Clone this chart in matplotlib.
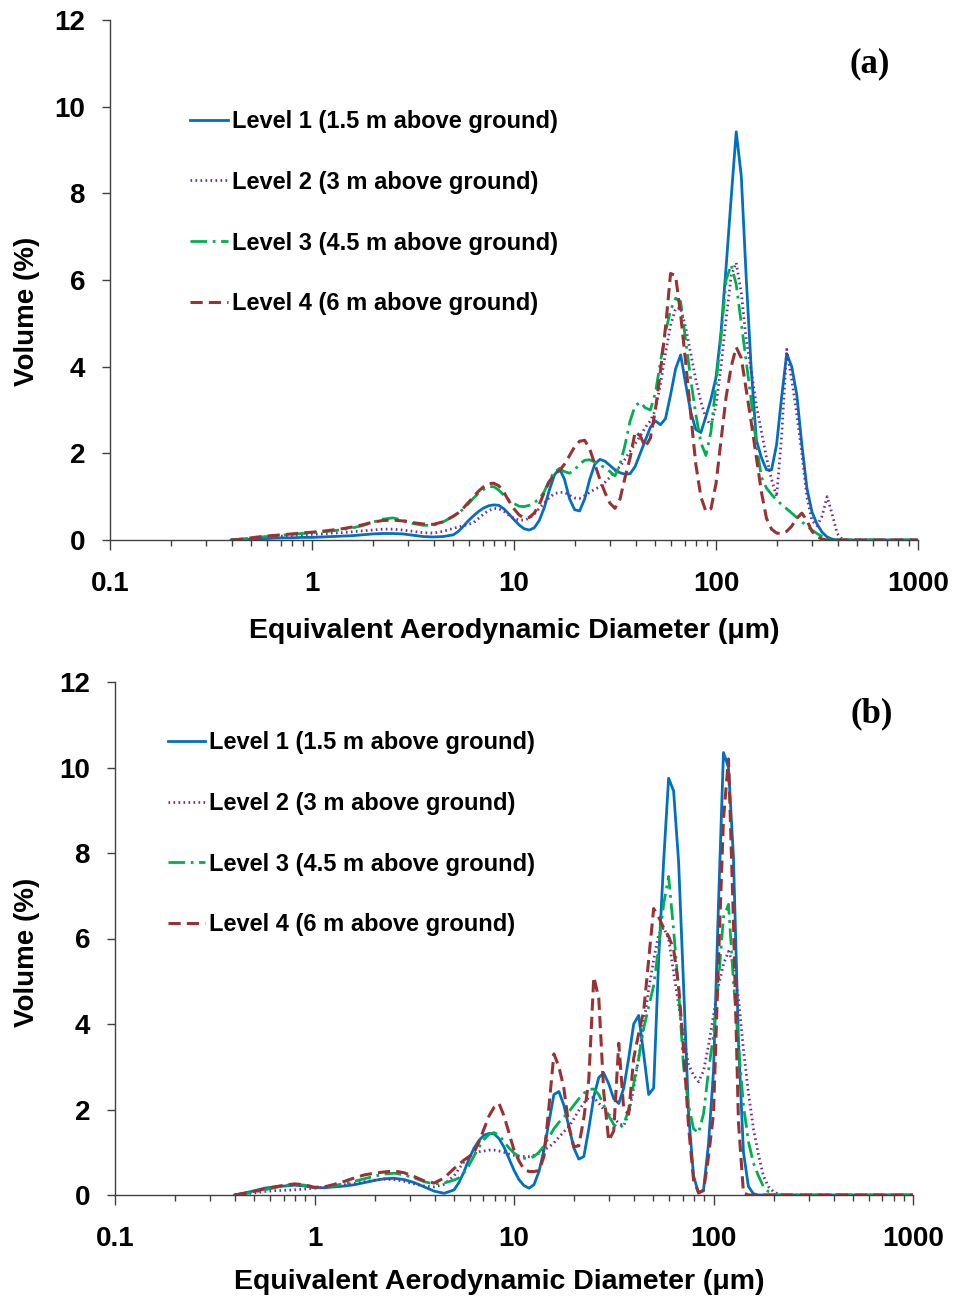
import matplotlib
matplotlib.use("Agg")
import matplotlib.pyplot as plt

plt.rcParams['font.family'] = ['Liberation Sans', 'DejaVu Sans']
plt.rcParams['font.weight'] = 'bold'

# particle diameter grid (um), shared by both panels
diameter = [0.398, 0.447, 0.501, 0.562, 0.631, 0.708, 0.794, 0.891, 1.0, 1.122, 1.259, 1.413,
            1.585, 1.778, 1.995, 2.239, 2.512, 2.818, 3.162, 3.548, 3.981, 4.467, 5.012,
            5.309, 5.623, 5.957, 6.310, 6.683, 7.079, 7.499, 7.943, 8.414, 8.913, 9.441,
            10.0, 10.59, 11.22, 11.89, 12.59, 13.34, 14.13, 14.96, 15.85, 16.79, 17.78, 18.84,
            19.95, 21.13, 22.39, 23.71, 25.12, 26.61, 28.18, 29.85, 31.62, 33.50, 35.48, 37.58,
            39.81, 42.17, 44.67, 47.32, 50.12, 53.09, 56.23, 59.57, 63.10, 66.83, 70.79, 74.99,
            79.43, 84.14, 89.13, 94.41, 100.0, 105.9, 112.2, 118.9, 125.9, 133.4, 141.3, 149.6,
            158.5, 167.9, 177.8, 188.4, 199.5, 211.3, 223.9, 237.1, 251.2, 266.1, 281.8, 298.5,
            316.2, 335.0, 354.8, 375.8, 398.1, 421.7, 446.7, 501.2, 631.0, 1000.0]

# ---- panel (a) ----
lvl1_a = [0, 0.01, 0.02, 0.03, 0.04, 0.05, 0.05, 0.06, 0.06, 0.07, 0.08, 0.09, 0.10, 0.12, 0.14, 0.15, 0.15, 0.14, 0.11, 0.08, 0.07, 0.08, 0.12,
          0.20, 0.32, 0.45, 0.56, 0.66, 0.74, 0.79, 0.81, 0.80, 0.72, 0.60,
          0.47, 0.35, 0.26, 0.23, 0.28, 0.45, 0.75, 1.15, 1.50, 1.65, 1.40, 0.95,
          0.70, 0.67, 0.95, 1.40, 1.75, 1.86, 1.82, 1.72, 1.62, 1.55, 1.52, 1.53,
          1.70, 2.00, 2.30, 2.60, 2.75, 2.66, 2.80, 3.35, 3.95, 4.27, 3.60, 2.95,
          2.55, 2.48, 2.85, 3.25, 3.75, 4.80, 6.30, 7.90, 9.42, 8.40, 6.00, 3.90,
          2.30, 1.90, 1.62, 1.62, 2.20, 3.30, 4.30, 4.00, 3.35, 2.20, 1.20, 0.65,
          0.37, 0.18, 0.07, 0.02, 0, 0, 0, 0, 0, 0]
lvl2_a = [0, 0.01, 0.03, 0.05, 0.07, 0.09, 0.10, 0.12, 0.13, 0.14, 0.16, 0.17, 0.19, 0.21, 0.23, 0.25, 0.25, 0.23, 0.20, 0.17, 0.16, 0.20, 0.27,
          0.30, 0.33, 0.36, 0.40, 0.50, 0.60, 0.68, 0.73, 0.72, 0.66, 0.57,
          0.50, 0.46, 0.46, 0.50, 0.60, 0.73, 0.85, 0.98, 1.07, 1.10, 1.10, 1.03,
          0.97, 0.96, 1.02, 1.10, 1.17, 1.23, 1.33, 1.45, 1.58, 1.70, 1.87, 2.05,
          2.22, 2.40, 2.60, 2.75, 3.00, 3.60, 4.30, 4.95, 5.35, 5.35, 4.90, 4.30,
          3.70, 3.20, 2.80, 2.65, 3.10, 4.00, 5.10, 6.10, 6.40, 5.70, 4.60, 3.90,
          3.10, 2.50, 1.90, 1.40, 1.00, 2.40, 4.40, 3.70, 2.90, 2.00, 1.00, 0.45,
          0.33, 0.55, 1.00, 0.60, 0.15, 0.01, 0, 0, 0, 0]
lvl3_a = [0, 0.02, 0.05, 0.07, 0.09, 0.11, 0.13, 0.15, 0.17, 0.19, 0.21, 0.24, 0.28, 0.33, 0.41, 0.48, 0.51, 0.46, 0.38, 0.34, 0.34, 0.42, 0.55,
          0.62, 0.72, 0.84, 0.97, 1.08, 1.17, 1.23, 1.23, 1.15, 1.03, 0.92,
          0.84, 0.78, 0.77, 0.80, 0.86, 0.95, 1.12, 1.38, 1.58, 1.64, 1.58, 1.54,
          1.62, 1.75, 1.84, 1.85, 1.80, 1.73, 1.67, 1.58, 1.48, 1.75, 2.20, 2.75,
          3.10, 3.18, 3.05, 3.00, 3.40, 4.10, 4.80, 5.30, 5.58, 5.50, 4.60, 3.70,
          2.90, 2.25, 1.95, 2.50, 3.60, 4.70, 6.00, 6.35, 5.90, 5.00, 4.10, 3.20,
          2.20, 1.45, 1.20, 1.05, 0.92, 0.82, 0.72, 0.62, 0.52, 0.42, 0.32, 0.23,
          0.15, 0.08, 0.03, 0, 0, 0, 0, 0, 0, 0]
lvl4_a = [0, 0.02, 0.05, 0.08, 0.10, 0.12, 0.14, 0.16, 0.18, 0.20, 0.23, 0.26, 0.30, 0.35, 0.41, 0.45, 0.46, 0.44, 0.40, 0.37, 0.36, 0.42, 0.55,
          0.63, 0.74, 0.87, 1.00, 1.13, 1.23, 1.30, 1.31, 1.25, 1.10, 0.90,
          0.72, 0.58, 0.51, 0.52, 0.62, 0.82, 1.10, 1.35, 1.52, 1.60, 1.75, 1.95,
          2.15, 2.28, 2.30, 2.10, 1.75, 1.40, 1.10, 0.85, 0.73, 0.95, 1.45, 1.90,
          2.50, 2.40, 2.15, 2.35, 3.00, 3.90, 4.90, 6.15, 6.10, 5.20, 4.10, 2.90,
          1.75, 1.00, 0.66, 0.72, 1.30, 2.30, 3.30, 4.00, 4.45, 4.20, 3.45, 2.70,
          1.90, 1.10, 0.50, 0.25, 0.16, 0.15, 0.20, 0.32, 0.50, 0.62, 0.45, 0.20,
          0.08, 0.02, 0, 0, 0, 0, 0, 0, 0, 0]

# ---- panel (b) ----
lvl1_b = [0, 0.05, 0.10, 0.16, 0.19, 0.21, 0.23, 0.21, 0.17, 0.17, 0.19, 0.21, 0.24, 0.29, 0.34, 0.38, 0.39, 0.36, 0.29, 0.19, 0.09, 0.04, 0.12,
          0.30, 0.55, 0.85, 1.10, 1.28, 1.40, 1.44, 1.43, 1.32, 1.12, 0.85,
          0.58, 0.36, 0.22, 0.16, 0.24, 0.55, 1.05, 1.70, 2.35, 2.42, 2.10, 1.60,
          1.10, 0.84, 0.90, 1.55, 2.30, 2.75, 2.85, 2.60, 2.25, 2.14, 2.50, 3.20,
          4.00, 4.20, 3.30, 2.35, 2.50, 5.50, 7.80, 9.75, 9.45, 7.80, 4.90, 1.90,
          0.45, 0.04, 0.12, 1.20, 2.90, 6.80, 10.35, 10.00, 7.90, 3.60, 1.00, 0.20,
          0.03, 0, 0, 0, 0, 0, 0, 0, 0, 0, 0, 0,
          0, 0, 0, 0, 0, 0, 0, 0, 0, 0]
lvl2_b = [0, 0.03, 0.05, 0.08, 0.10, 0.11, 0.12, 0.14, 0.16, 0.18, 0.21, 0.24, 0.27, 0.31, 0.35, 0.37, 0.36, 0.32, 0.26, 0.21, 0.19, 0.25, 0.45,
          0.62, 0.78, 0.90, 0.97, 1.01, 1.03, 1.05, 1.05, 1.03, 1.00, 0.96,
          0.93, 0.91, 0.90, 0.90, 0.93, 0.98, 1.05, 1.12, 1.22, 1.35, 1.48, 1.60,
          1.78, 1.98, 2.15, 2.28, 2.28, 2.15, 2.00, 1.88, 1.80, 1.68, 1.62, 1.90,
          2.50, 3.20, 4.00, 4.80, 5.50, 6.10, 6.25, 6.00, 5.20, 4.45, 3.70, 3.05,
          2.80, 2.65, 2.90, 3.50, 4.20, 4.90, 5.40, 5.70, 5.40, 4.60, 3.40, 2.40,
          1.55, 0.95, 0.45, 0.20, 0.08, 0.02, 0, 0, 0, 0, 0, 0,
          0, 0, 0, 0, 0, 0, 0, 0, 0, 0]
lvl3_b = [0, 0.03, 0.07, 0.12, 0.17, 0.22, 0.25, 0.23, 0.17, 0.18, 0.22, 0.27, 0.32, 0.38, 0.44, 0.49, 0.51, 0.47, 0.40, 0.31, 0.26, 0.28, 0.35,
          0.40, 0.52, 0.70, 0.92, 1.12, 1.30, 1.42, 1.46, 1.40, 1.25, 1.10,
          0.98, 0.90, 0.86, 0.86, 0.90, 1.00, 1.15, 1.35, 1.55, 1.70, 1.82, 1.95,
          2.10, 2.25, 2.38, 2.47, 2.48, 2.35, 2.10, 1.85, 1.65, 1.56, 1.65, 2.00,
          2.60, 3.20, 3.90, 4.40, 4.90, 5.80, 6.80, 7.45, 6.20, 4.80, 3.00, 2.10,
          1.55, 1.45, 1.90, 2.90, 3.75, 5.00, 6.50, 6.80, 5.00, 3.50, 2.10, 1.25,
          0.75, 0.45, 0.20, 0.08, 0.02, 0, 0, 0, 0, 0, 0, 0,
          0, 0, 0, 0, 0, 0, 0, 0, 0, 0]
lvl4_b = [0, 0.04, 0.09, 0.14, 0.19, 0.23, 0.26, 0.24, 0.18, 0.19, 0.25, 0.32, 0.40, 0.47, 0.51, 0.54, 0.56, 0.52, 0.43, 0.33, 0.28, 0.40, 0.62,
          0.72, 0.82, 0.90, 1.00, 1.25, 1.55, 1.85, 2.05, 2.14, 1.85, 1.45,
          1.05, 0.80, 0.60, 0.55, 0.55, 0.57, 0.90, 2.05, 3.30, 3.00, 2.50, 1.60,
          1.13, 1.15, 1.80, 2.70, 5.10, 4.60, 2.40, 1.27, 1.50, 3.55, 2.00, 1.90,
          3.20, 3.78, 4.30, 5.50, 6.70, 6.50, 6.25, 6.05, 5.75, 4.90, 3.40, 1.60,
          0.35, 0.06, 0.10, 0.90, 1.90, 5.50, 8.80, 10.20, 6.40, 1.70, 0.05, 0,
          0, 0, 0, 0, 0, 0, 0, 0, 0, 0, 0, 0,
          0, 0, 0, 0, 0, 0, 0, 0, 0, 0]

labels = ["Level 1 (1.5 m above ground)", "Level 2 (3 m above ground)",
          "Level 3 (4.5 m above ground)", "Level 4 (6 m above ground)"]
colors = ["#0070C0", "#7030A0", "#00B050", "#993333"]
styles = ["-", (0, (0.6, 1.2)), (0, (6, 2, 1, 2)), (0, (4, 2))]
widths = [2.0, 2.0, 2.0, 2.2]

tick_font = {'family': 'Liberation Sans', 'weight': 'bold', 'size': 20}

fig = plt.figure(figsize=(9.55, 13), dpi=100)
W, H = 955.0, 1300.0


def panel(rect_px, series, tag, leg_anchor, tag_pos, ylab_xy, xlab_xy):
    l, t, r, b = rect_px
    ax = fig.add_axes([l / W, 1 - b / H, (r - l) / W, (b - t) / H])
    for y, lab, c, ls, lw in zip(series, labels, colors, styles, widths):
        ax.plot(diameter, y, color=c, linestyle=ls, linewidth=lw, label=lab)
    ax.set_xscale('log')
    ax.set_xlim(0.1, 1000)
    ax.set_ylim(0, 12)
    ax.set_xticks([0.1, 1, 10, 100, 1000])
    ax.set_xticklabels(['0.1', '1', '10', '100', '1000'], fontdict=tick_font)
    ax.set_yticks(range(0, 13, 2))
    ax.set_yticklabels([str(v) for v in range(0, 13, 2)], fontdict=tick_font)
    for s in ['top', 'right']:
        ax.spines[s].set_visible(False)
    for s in ['left', 'bottom']:
        ax.spines[s].set_color('#404040')
        ax.spines[s].set_linewidth(1.0)
    ax.tick_params(axis='x', which='major', direction='out', length=7, width=1,
                   color='#404040', pad=15)
    ax.tick_params(axis='x', which='minor', direction='out', length=4, width=1,
                   color='#404040')
    ax.tick_params(axis='y', which='major', direction='out', length=6, width=1,
                   color='#404040', pad=12)
    ax.set_xlabel('Equivalent Aerodynamic Diameter (\u03bcm)', fontsize=20.5, fontweight='bold')
    ax.set_ylabel('Volume (%)', fontsize=20, fontweight='bold')
    ax.xaxis.set_label_coords(*xlab_xy)
    ax.yaxis.set_label_coords(*ylab_xy)
    ax.legend(loc='upper left', bbox_to_anchor=leg_anchor, frameon=False,
              prop={'family': 'Liberation Sans', 'weight': 'bold', 'size': 17},
              handlelength=1.6, handletextpad=0.17, labelspacing=1.6,
              borderpad=0, borderaxespad=0)
    ax.text(tag_pos[0], tag_pos[1], tag, transform=ax.transAxes, ha='right', va='center',
            fontsize=25, fontweight='bold', family='Liberation Serif')
    return ax


panel((110, 20, 918, 540), [lvl1_a, lvl2_a, lvl3_a, lvl4_a], '(a)',
      (0.099, 0.827), (0.965, 0.915), (-0.087, 0.44), (0.5, -0.15))
panel((115, 682, 913, 1195), [lvl1_b, lvl2_b, lvl3_b, lvl4_b], '(b)',
      (0.066, 0.9045), (0.975, 0.938), (-0.094, 0.472), (0.482, -0.144))

fig.savefig('out.png', dpi=100)
